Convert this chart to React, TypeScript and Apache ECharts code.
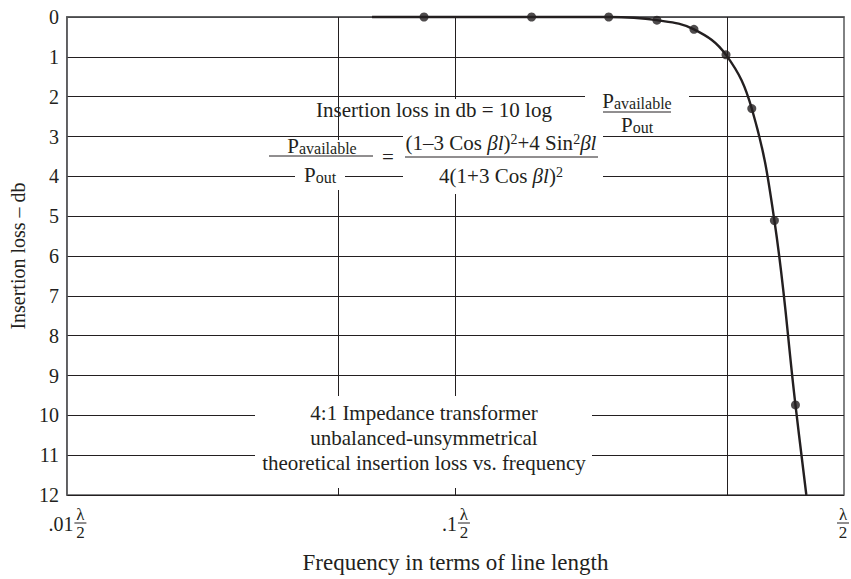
import React, { useEffect, useRef } from 'react';
import * as echarts from 'echarts';

const FONT = '"Liberation Serif", "Times New Roman", Times, serif';
const INK = '#231f20';
const FRAME = '#58595b';

// Axis definitions
const yMin = 0;
const yMax = 12;
const yStep = 1;
const xMin = 0.01;
const xMax = 1;
const xTickValues = [0.01, 0.1, 1];
const xTickPrefixes = ['.01', '.1', ''];
const xGridValues = [0.05, 0.1, 0.5];

// Curve (frequency in λ/2 units, insertion loss in db)
const curveFreq = [0.061, 0.083, 0.157, 0.248, 0.33, 0.411, 0.497, 0.579, 0.662, 0.75, 0.8];
const curveLoss = [0, 0, 0, 0, 0.08, 0.31, 0.95, 2.3, 5.11, 9.74, 12];

// Plotted (marked) points
const markerFreq = [0.083, 0.157, 0.248, 0.33, 0.411, 0.497, 0.579, 0.662, 0.75];
const markerLoss = [0, 0, 0, 0.08, 0.31, 0.95, 2.3, 5.11, 9.74];

const xAxisTitle = 'Frequency in terms of line length';
const yAxisTitle = 'Insertion loss – db';
const noteLines = [
  '4:1 Impedance transformer',
  'unbalanced-unsymmetrical',
  'theoretical insertion loss vs. frequency',
];

// Times-like advance widths (em) for the tick prefixes
function prefixWidth(text: string, size: number): number {
  let w = 0;
  for (const ch of text) w += ch === '.' ? 0.25 : 0.5;
  return w * size;
}

const baseRich = {
  n: { fontFamily: FONT, fontSize: 21, fill: INK },
  sub: { fontFamily: FONT, fontSize: 16, fill: INK, verticalAlign: 'bottom' },
  sup: { fontFamily: FONT, fontSize: 14, fill: INK, verticalAlign: 'top' },
  it: { fontFamily: FONT, fontSize: 21, fill: INK, fontStyle: 'italic' },
};

function txt(x: number, y: number, text: string, size = 21, extra: any = {}) {
  return {
    type: 'text',
    x,
    y,
    z: 102,
    style: {
      text,
      fontFamily: FONT,
      fontSize: size,
      fill: INK,
      align: 'center',
      verticalAlign: 'middle',
      rich: baseRich,
      ...extra,
    },
  };
}

function whiteRect(x: number, y: number, w: number, h: number) {
  return {
    type: 'rect',
    z: 100,
    shape: { x, y, width: w, height: h },
    style: { fill: '#ffffff' },
  };
}

function bar(x1: number, x2: number, y: number) {
  return {
    type: 'line',
    z: 103,
    shape: { x1, y1: y, x2, y2: y },
    style: { stroke: INK, lineWidth: 1 },
  };
}

export default function App() {
  const ref = useRef<HTMLDivElement>(null);

  useEffect(() => {
    if (!ref.current) return;
    const chart = echarts.init(ref.current, null, { renderer: 'svg' });

    const option: any = {
      animation: false,
      backgroundColor: '#ffffff',
      grid: {
        left: 60,
        right: 7,
        top: 17,
        bottom: 81,
        show: true,
        borderColor: FRAME,
        borderWidth: 1.5,
      },
      xAxis: {
        type: 'log',
        logBase: 10,
        min: xMin,
        max: xMax,
        axisLabel: { show: false },
        axisTick: { show: false },
        splitLine: { show: false },
        minorTick: { show: false },
        axisLine: { show: true, lineStyle: { color: FRAME, width: 1.5 } },
        name: xAxisTitle,
        nameLocation: 'middle',
        nameGap: 56,
        nameTextStyle: { fontFamily: FONT, fontSize: 23, color: INK },
      },
      yAxis: {
        type: 'value',
        inverse: true,
        min: yMin,
        max: yMax,
        interval: yStep,
        axisLabel: { fontFamily: FONT, fontSize: 20, color: INK, margin: 8 },
        axisTick: { show: false },
        axisLine: { show: true, lineStyle: { color: FRAME, width: 1.5 } },
        splitLine: { show: true, lineStyle: { color: INK, width: 1 } },
        name: yAxisTitle,
        nameLocation: 'middle',
        nameGap: 33,
        nameTextStyle: { fontFamily: FONT, fontSize: 20, color: INK },
      },
      series: [
        {
          type: 'line',
          data: curveFreq.map((f, i) => [f, curveLoss[i]]),
          smooth: 0.4,
          showSymbol: false,
          clip: false,
          z: 3,
          lineStyle: { color: INK, width: 2.4 },
          markLine: {
            silent: true,
            symbol: 'none',
            label: { show: false },
            lineStyle: { color: INK, width: 1, type: 'solid' },
            data: xGridValues.map((v) => ({ xAxis: v })),
          },
        },
        {
          type: 'scatter',
          data: markerFreq.map((f, i) => [f, markerLoss[i]]),
          symbolSize: 9,
          clip: false,
          z: 4,
          itemStyle: { color: INK },
        },
      ],
    };
    chart.setOption(option);

    const graphics: any[] = [];

    // X tick labels: prefix plus λ/2 fraction
    const bottomY = chart.convertToPixel({ yAxisIndex: 0 }, yMax) as number;
    const lamW = 10;
    xTickValues.forEach((v, i) => {
      const px = chart.convertToPixel({ xAxisIndex: 0 }, v) as number;
      const prefix = xTickPrefixes[i];
      const pw = prefix ? prefixWidth(prefix, 20) : 0;
      const gap = prefix ? 2 : 0;
      const total = pw + gap + lamW;
      const fracC = prefix ? px + total / 2 - lamW / 2 : px - 1;
      if (prefix) {
        graphics.push(
          txt(fracC - lamW / 2 - gap, bottomY + 29, prefix, 20, { align: 'right' })
        );
      }
      graphics.push(txt(fracC, bottomY + 19, 'λ', 17));
      graphics.push(bar(fracC - lamW / 2 - 1, fracC + lamW / 2 + 1, bottomY + 28));
      graphics.push(txt(fracC, bottomY + 37, '2', 17));
    });

    // Formula block
    graphics.push(whiteRect(585, 90, 104, 45));
    graphics.push(whiteRect(403, 99, 200, 95));
    graphics.push(whiteRect(295, 140, 50, 50));
    graphics.push(txt(434, 110, 'Insertion loss in db = 10 log'));
    graphics.push(txt(637, 101, '{n|P}{sub|available}'));
    graphics.push(bar(603, 671, 112));
    graphics.push(txt(637, 125, '{n|P}{sub|out}'));

    graphics.push(txt(322, 146, '{n|P}{sub|available}'));
    graphics.push(bar(269, 373, 156));
    graphics.push(txt(320, 175, '{n|P}{sub|out}'));
    graphics.push(txt(388, 157, '='));
    graphics.push(
      txt(501, 143, '{n|(1–3 Cos }{it|βl}{n|)}{sup|2}{n|+4 Sin}{sup|2}{it|βl}')
    );
    graphics.push(bar(405, 598, 157));
    graphics.push(txt(501, 176, '{n|4(1+3 Cos }{it|βl}{n|)}{sup|2}'));

    // Note block
    graphics.push(whiteRect(255, 396, 337, 92));
    noteLines.forEach((line, i) => {
      graphics.push(txt(424, 413 + i * 25, line));
    });

    chart.setOption({ graphic: graphics });

    return () => {
      chart.dispose();
    };
  }, []);

  return (
    <div
      ref={ref}
      style={{ position: 'fixed', left: 0, top: 0, width: 851, height: 579, background: '#fff' }}
    />
  );
}
